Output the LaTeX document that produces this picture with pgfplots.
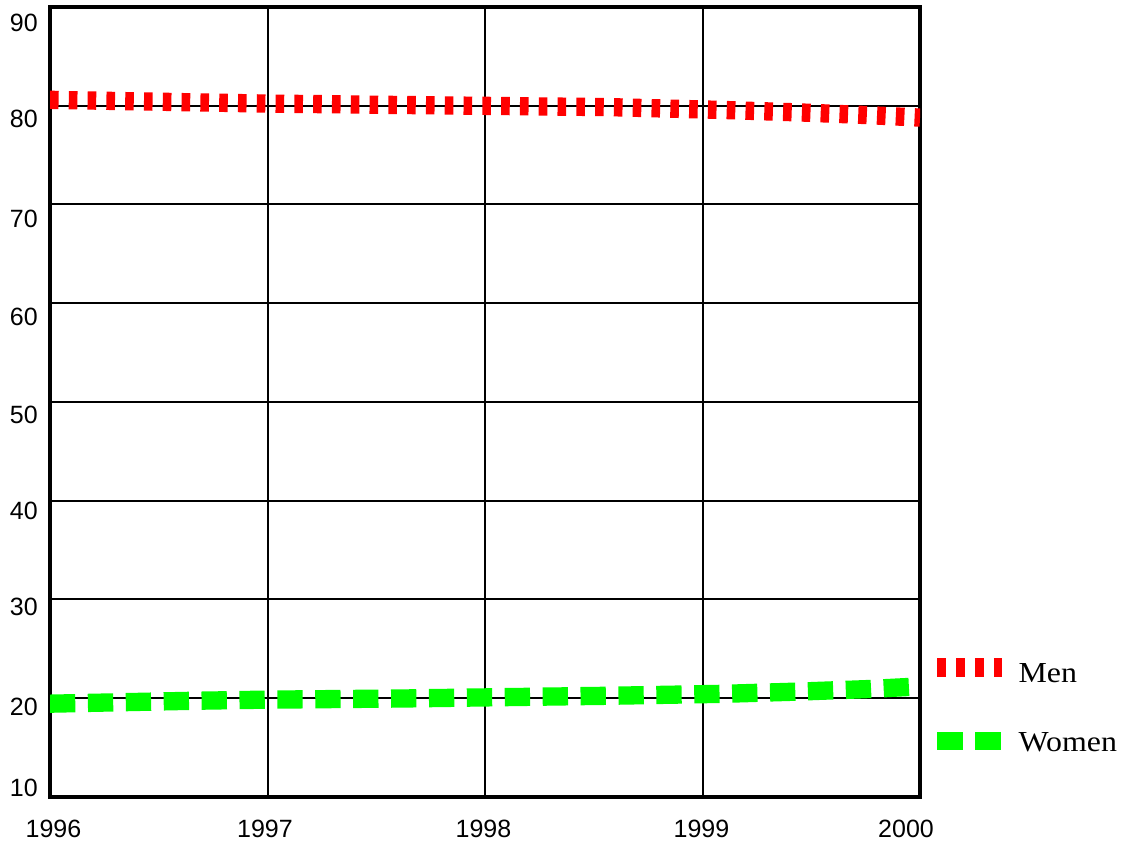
\documentclass[border=0pt]{standalone}
\usepackage{fontspec}
\setmainfont{Liberation Serif}
\newfontfamily\sansf{Liberation Sans}
\newfontfamily\legf{Liberation Serif}[FakeStretch=1.1]
\usepackage{pgfplots}
\pgfplotsset{compat=1.18}
\definecolor{mred}{RGB}{255,0,0}
\definecolor{mgreen}{RGB}{0,255,0}
\pgfplotsset{
  menleg/.style={legend image code/.code={\draw[##1] (0bp,15.5bp) -- (65bp,15.5bp);}},
  womenleg/.style={legend image code/.code={\draw[##1] (0bp,10.5bp) -- (65bp,10.5bp);}},
}
\begin{document}
\begin{tikzpicture}
\begin{axis}[
  scale only axis, width=870bp, height=790bp,
  xmin=1996, xmax=2000, ymin=10, ymax=90,
  xtick={1996,1997,1998,1999,2000},
  ytick={10,20,30,40,50,60,70,80,90},
  xticklabels={{\smash{\hspace*{7bp}1996}},{\smash{1997\hspace*{5bp}}},{\smash{1998\hspace*{3bp}}},{\smash{1999\hspace*{2bp}}},{\smash{2000\hspace*{28bp}}}},
  yticklabels={{\smash{\raisebox{0.5bp}{10}}},{\smash{\raisebox{-17bp}{20}}},{\smash{\raisebox{-16.2bp}{30}}},{\smash{\raisebox{-18.5bp}{40}}},{\smash{\raisebox{-21.3bp}{50}}},{\smash{\raisebox{-22bp}{60}}},{\smash{\raisebox{-23.5bp}{70}}},{\smash{\raisebox{-22bp}{80}}},{\smash{\raisebox{-24.5bp}{90}}}},
  major tick length=0pt,
  grid=major,
  major grid style={black, line width=2bp},
  axis line style={black, line width=3.2bp},
  tick label style={font=\sansf\fontsize{25bp}{30bp}\selectfont, inner sep=0pt},
  xticklabel style={anchor=north, yshift=-39.5bp},
  yticklabel style={anchor=east, xshift=-12bp},
  legend style={draw=none, fill=none, at={(1.0092,0.17595)}, anchor=north west,
    inner sep=0pt, row sep=48.5bp, column sep=7bp,
    font=\legf\fontsize{29bp}{29bp}\selectfont,
    nodes={inner sep=0pt, text height=20bp, text depth=0pt, anchor=base west}},
  legend cell align=left,
]
\addplot[mred, line width=18.3bp, dash pattern=on 8.6bp off 10.2bp, menleg] coordinates {
(1996,80.6)(1996.65,80.35)(1997.0,80.22)(1997.6,80.08)(1998.57,79.86)(1999.1,79.57)(1999.45,79.32)(1999.75,79.06)(2000,78.8)
};
\addlegendentry{Men}
\addplot[mgreen, line width=18.3bp, dash pattern=on 25.3bp off 12.6bp, womenleg] coordinates {
(1996,19.45)(1996.65,19.74)(1997,19.86)(1997.6,19.97)(1998.57,20.25)(1999.1,20.45)(1999.45,20.68)(1999.75,20.92)(2000,21.2)
};
\addlegendentry{Women}
\end{axis}
\pgfresetboundingbox
\path[use as bounding box] (-50bp,-47bp) rectangle (1077bp,797bp);
\end{tikzpicture}
\end{document}
